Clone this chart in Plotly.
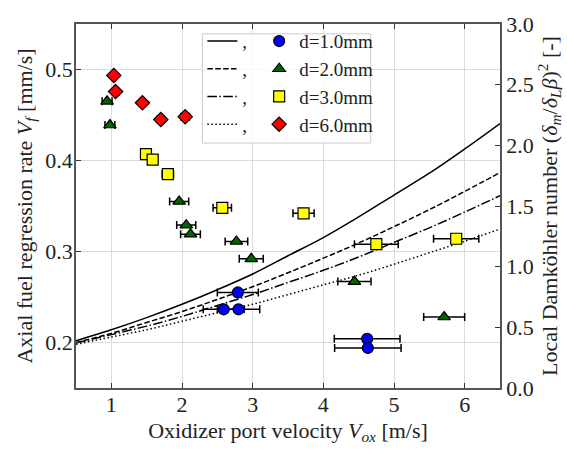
import plotly.graph_objects as go

# ---- measured regression rates (left axis) ----
d1_vox = [2.59, 2.80, 2.79, 4.62, 4.63]
d1_vf = [0.2365, 0.2365, 0.255, 0.204, 0.194]
d1_err = [0.29, 0.30, 0.29, 0.465, 0.47]

d2_vox = [0.94, 0.98, 1.96, 2.06, 2.12, 2.77, 2.98, 4.44, 5.71]
d2_vf = [0.465, 0.439, 0.355, 0.329, 0.319, 0.311, 0.292, 0.267, 0.228]
d2_err = [0.07, 0.07, 0.135, 0.135, 0.14, 0.16, 0.17, 0.235, 0.29]

d3_vox = [1.49, 1.585, 1.80, 2.57, 3.72, 4.75, 5.88]
d3_vf = [0.407, 0.401, 0.385, 0.348, 0.342, 0.308, 0.314]
d3_err = [0.07, 0.07, 0.08, 0.13, 0.15, 0.31, 0.32]

d6_vox = [1.035, 1.06, 1.44, 1.70, 2.045]
d6_vf = [0.4935, 0.4757, 0.4635, 0.445, 0.448]
d6_err = [0.03, 0.03, 0.04, 0.05, 0.06]

# ---- local Damkoehler number curves (right axis) ----
vox_model = [0.5, 1.0, 1.5, 2.0, 2.5, 3.0, 3.5, 4.0, 4.5, 5.0, 5.5, 6.0, 6.5]
da_d1 = [0.39, 0.48, 0.58, 0.69, 0.81, 0.94, 1.09, 1.24, 1.41, 1.59, 1.77, 1.97, 2.18]
da_d2 = [0.375, 0.45, 0.54, 0.63, 0.73, 0.835, 0.95, 1.07, 1.195, 1.33, 1.47, 1.62, 1.775]
da_d3 = [0.37, 0.44, 0.51, 0.59, 0.68, 0.77, 0.87, 0.97, 1.08, 1.20, 1.32, 1.45, 1.585]
da_d6 = [0.36, 0.42, 0.48, 0.55, 0.62, 0.69, 0.77, 0.85, 0.93, 1.02, 1.115, 1.21, 1.31]

labels = ["d=1.0mm", "d=2.0mm", "d=3.0mm", "d=6.0mm"]
x_ticks = [1, 2, 3, 4, 5, 6]
vf_ticks = [0.2, 0.3, 0.4, 0.5]
da_ticks = [0.0, 0.5, 1.0, 1.5, 2.0, 2.5, 3.0]

FONT = "'Liberation Serif', 'Times New Roman', Times, serif"
AXIS_COLOR = "#555555"
GRID_COLOR = "#dcdcdc"

fig = go.Figure()

# model curves on the Damkoehler axis; names are the commas of the legend rows
dashes = ["solid", "5.5px,2.4px", "9.6px,2.4px,1.5px,2.4px", "1.5px,2.5px"]
for da, dash in zip([da_d1, da_d2, da_d3, da_d6], dashes):
    fig.add_trace(go.Scatter(
        x=vox_model, y=da, mode="lines", name=",",
        line=dict(color="black", width=1.5, dash=dash, shape="spline"),
        xaxis="x", yaxis="y", legend="legend",
    ))

# measurements on the regression-rate axis
series = [
    (d1_vox, d1_vf, d1_err, "circle", "#0000ff", 11),
    (d2_vox, d2_vf, d2_err, "triangle-up", "#006400", 11),
    (d3_vox, d3_vf, d3_err, "square", "#ffff00", 11),
    (d6_vox, d6_vf, d6_err, "diamond", "#ff0000", 11),
]
for (vx, vf, err, sym, col, sz), lab in zip(series, labels):
    fig.add_trace(go.Scatter(
        x=vx, y=vf, mode="markers", name=lab,
        marker=dict(symbol=sym, color=col, size=sz,
                    line=dict(color="black", width=1.2)),
        error_x=dict(type="data", array=err, visible=True,
                     color="black", thickness=1.5, width=4),
        xaxis="x", yaxis="y2", legend="legend2",
    ))

# legend frame enclosing both legend columns
fig.add_shape(type="rect", xref="paper", yref="paper",
              x0=0.298, x1=0.695, y0=0.673, y1=0.973,
              line=dict(color="#cccccc", width=1),
              fillcolor="rgba(255,255,255,0.8)", layer="above")

tick_font = dict(family=FONT, size=22, color="#222222")
title_font = dict(family=FONT, size=22, color="#222222")
legend_font = dict(family=FONT, size=19, color="#222222")

fig.update_layout(
    width=567, height=451,
    margin=dict(l=76, r=65, t=15, b=63),
    paper_bgcolor="white", plot_bgcolor="white",
    font=dict(family=FONT, size=22, color="#222222"),
    xaxis=dict(
        range=[0.5, 6.5], tickvals=x_ticks, ticks="inside", ticklen=5,
        tickwidth=1.2, tickcolor="#333333", mirror="ticks",
        showline=True, linecolor=AXIS_COLOR, linewidth=1.5,
        showgrid=True, gridcolor=GRID_COLOR, gridwidth=1.2,
        zeroline=False, tickfont=tick_font, ticklabelstandoff=-4,
        title=dict(text="Oxidizer port velocity <i>V</i><sub><i>ox</i></sub> [m/s]",
                   font=title_font, standoff=6),
    ),
    yaxis=dict(
        range=[0, 3], side="right", tickvals=da_ticks, tickformat=".1f",
        ticks="inside", ticklen=5, tickwidth=1.2, tickcolor="#333333",
        showline=True, linecolor=AXIS_COLOR, linewidth=1.5,
        showgrid=False, zeroline=False, tickfont=tick_font,
        title=dict(text="Local Damköhler number (<i>δ</i><sub><i>m</i></sub>/<i>δ</i><sub><i>L</i></sub><i>β</i>)<sup>2</sup> [-]",
                   font=title_font, standoff=6),
    ),
    yaxis2=dict(
        range=[0.15, 0.55], overlaying="y", side="left", tickvals=vf_ticks,
        tickformat=".1f", ticks="inside", ticklen=5, tickwidth=1.2,
        tickcolor="#333333", showline=True, linecolor=AXIS_COLOR, linewidth=1.5,
        showgrid=True, gridcolor=GRID_COLOR, gridwidth=1.2, zeroline=False,
        tickfont=tick_font, ticklabelstandoff=-3,
        title=dict(text="Axial fuel regression rate <i>V</i><sub><i>f</i></sub> [mm/s]",
                   font=title_font, standoff=7),
    ),
    legend=dict(x=0.298, y=1.005, xanchor="left", yanchor="top",
                bgcolor="rgba(0,0,0,0)", borderwidth=0,
                font=legend_font, itemwidth=30, tracegroupgap=0),
    legend2=dict(x=0.432, y=1.005, xanchor="left", yanchor="top",
                 bgcolor="rgba(0,0,0,0)", borderwidth=0,
                 font=legend_font, itemwidth=30, tracegroupgap=0),
    showlegend=True,
)

fig.write_html("out.html")
